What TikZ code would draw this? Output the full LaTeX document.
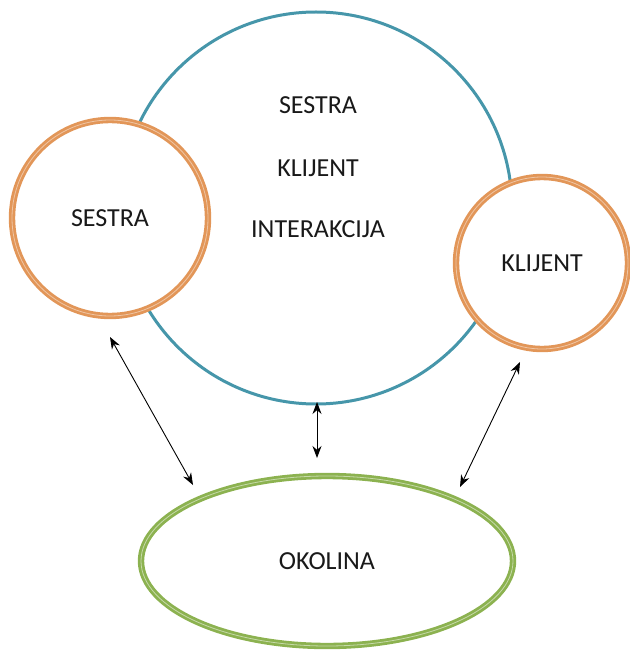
\documentclass[tikz,border=0pt]{standalone}
\usepackage{fontspec}
\setmainfont{Carlito}
\usetikzlibrary{shapes.geometric,arrows.meta}

\definecolor{ringblue}{RGB}{70,150,170}
\definecolor{ringorange}{RGB}{226,150,88}
\definecolor{ringgreen}{RGB}{140,178,80}

\tikzset{
    label text/.style={font=\fontsize{26}{30}\selectfont, text=black!90},
    person/.style={circle, fill=white, draw=ringorange, line width=2.8pt,
        double=ringorange!55, double distance=0.8pt, inner sep=0pt, label text},
    relation/.style={<->, >={Stealth[length=12pt, width=9pt]}, line width=0.9pt},
}

\begin{document}
\begin{tikzpicture}[x=1pt, y=-1pt]
    \useasboundingbox (0, 0) rectangle (629, 652);

    % interaction circle behind the two persons
    \node [circle, draw=ringblue, line width=3pt, minimum size=392pt, inner sep=0pt] (interakcija) at (316, 208) {};
    \node [label text] (t1) at (318, 105) {SESTRA};
    \node [label text] (t2) at (318, 168) {KLIJENT};
    \node [label text] (t3) at (318, 229) {INTERAKCIJA};

    \node [person, minimum size=196pt] (sestra) at (110, 218) {SESTRA};
    \node [person, minimum size=172pt] (klijent) at (542, 263) {KLIJENT};

    \node [ellipse, draw=ringgreen, line width=2.8pt, double=ringgreen!50,
        double distance=0.8pt, minimum width=372pt, minimum height=170pt,
        inner sep=0pt, label text] (okolina) at (327, 561) {OKOLINA};

    % arrow ends
    \coordinate (s1) at (110, 337);
    \coordinate (o1) at (193, 485);
    \coordinate (i1) at (317, 402);
    \coordinate (o2) at (317, 458);
    \coordinate (k1) at (520, 362);
    \coordinate (o3) at (460, 487);

    \draw [relation] (s1) -- (o1);
    \draw [relation] (i1) -- (o2);
    \draw [relation] (k1) -- (o3);
\end{tikzpicture}
\end{document}
